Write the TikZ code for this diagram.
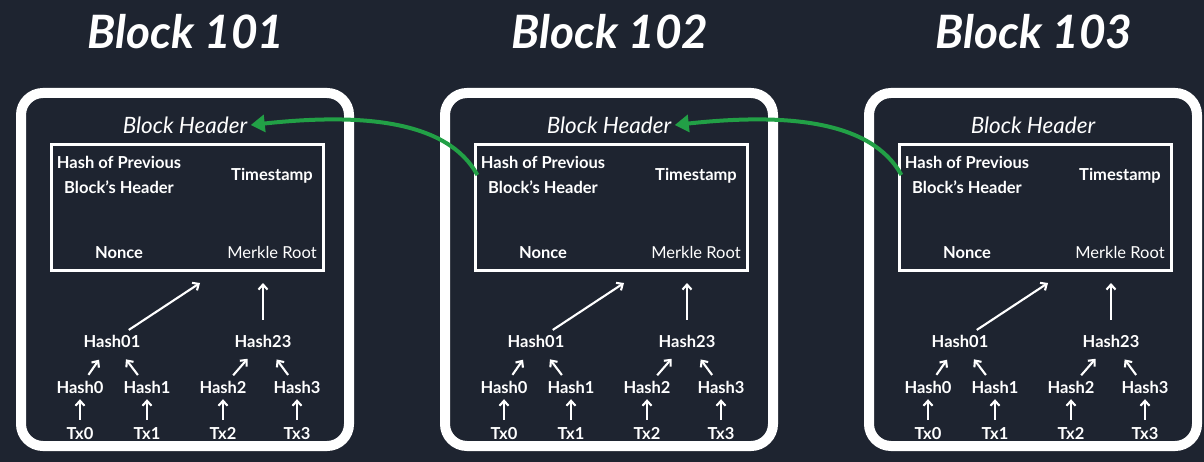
\documentclass[tikz,border=0pt]{standalone}
\usepackage{fontspec}
\setmainfont{Lato}
\usetikzlibrary{arrows.meta, positioning}
\definecolor{bgnavy}{HTML}{1E2430}
\definecolor{linkgreen}{HTML}{22A046}

\begin{document}
\begin{tikzpicture}[
    x=1pt, y=-1pt,
    blockbox/.style={draw=white, line width=10pt, rounded corners=22pt, minimum width=328pt, minimum height=353pt},
    headbox/.style={draw=white, line width=3pt, minimum width=272pt, minimum height=126pt},
    title/.style={font=\fontsize{46}{50}\selectfont\bfseries\itshape, text=white},
    headtitle/.style={font=\fontsize{22.5}{26}\selectfont\itshape, text=white},
    field/.style={font=\fontsize{16.5}{25}\selectfont\bfseries, text=white, align=center},
    hashlbl/.style={font=\fontsize{16.5}{19}\selectfont\bfseries, text=white, inner sep=1pt, text height=12pt, text depth=0pt},
    arrow/.style={-{Straight Barb[length=5pt, width=9pt]}, white, line width=2.1pt},
    link/.style={-{Triangle[length=14pt, width=17pt]}, linkgreen, line width=4pt}
]
\fill[bgnavy] (0,0) rectangle (1204,462);
\useasboundingbox (0,0) rectangle (1204,462);

\foreach \n/\dx in {101/0, 102/424, 103/848} {
\begin{scope}[xshift=\dx pt]
\node[title] (name\n) at (186,32) {Block \n};
\node[blockbox] (blk\n) at (185,269.5) {};
\node[headtitle] (htitle\n) at (185,125) {Block Header};
\node[headbox] (box\n) at (187,207.5) {};
\node[field] (prev\n) at (119,175) {Hash of Previous\\Block's Header};
\node[field] (time\n) at (272,176) {Timestamp};
\node[field] (nonce\n) at (119,253) {Nonce};
\node[field, font=\fontsize{16.5}{19}\selectfont] (root\n) at (272,252) {Merkle Root};
\coordinate (rin\n) at (200,283);
\coordinate (rin23\n) at (263,283);

% merkle tree
\node[hashlbl] (h01\n) at (112,341) {Hash01};
\node[hashlbl] (h23\n) at (263,341) {Hash23};
\node[hashlbl] (h0\n) at (80,387) {Hash0};
\node[hashlbl] (h1\n) at (147,387) {Hash1};
\node[hashlbl] (h2\n) at (223,387) {Hash2};
\node[hashlbl] (h3\n) at (297,387) {Hash3};
\node[hashlbl] (tx0\n) at (80,433) {Tx0};
\node[hashlbl] (tx1\n) at (147,433) {Tx1};
\node[hashlbl] (tx2\n) at (223,433) {Tx2};
\node[hashlbl] (tx3\n) at (297,433) {Tx3};

\draw[arrow, shorten <=7pt] (h01\n) -- (rin\n);
\draw[arrow, shorten <=14pt] (h23\n) -- (rin23\n);
\foreach \a/\b in {h0/h01, h1/h01, h2/h23, h3/h23}
  \draw[arrow, shorten <=6pt, shorten >=14pt] (\a\n) -- (\b\n);
\foreach \a/\b in {tx0/h0, tx1/h1, tx2/h2, tx3/h3}
  \draw[arrow, shorten <=6pt, shorten >=5pt] (\a\n) -- (\b\n);
\end{scope}
}

% links to the previous header
\draw[link] (prev102.west) .. controls +(-30,-55) and +(110,-12) .. (htitle101.east);
\draw[link] (prev103.west) .. controls +(-30,-55) and +(110,-12) .. (htitle102.east);
\end{tikzpicture}
\end{document}
